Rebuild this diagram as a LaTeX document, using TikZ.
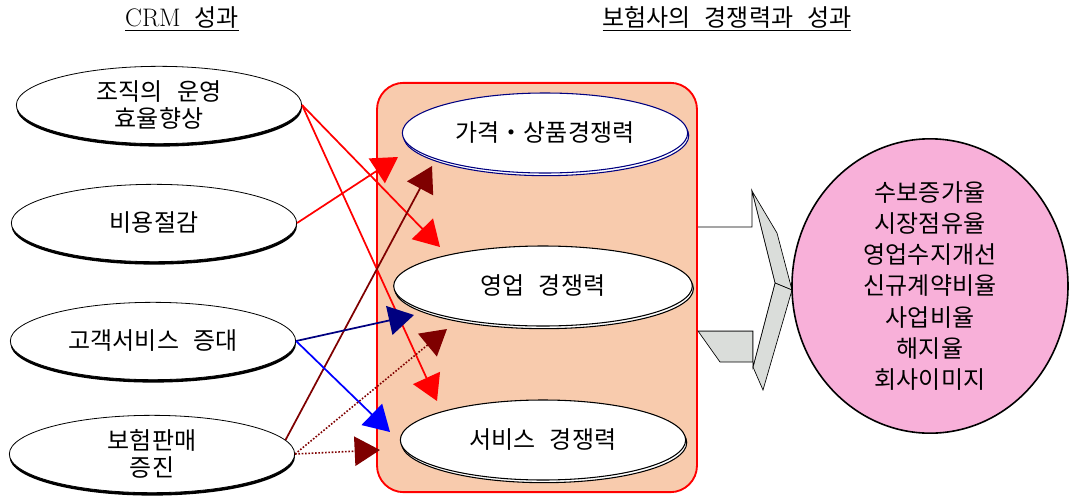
\documentclass[tikz,border=0pt]{standalone}
\usepackage{fontspec}
\newfontfamily\kr[WordSpace=2.6]{Noto Sans CJK KR}
\usetikzlibrary{arrows.meta,shapes.geometric,shadows}
\definecolor{peach}{HTML}{F8CBAD}
\definecolor{rose}{HTML}{F8B0D9}
\definecolor{bevel}{HTML}{DADDDA}
\definecolor{maroon}{HTML}{7F0000}
\definecolor{navy}{HTML}{000080}
\tikzset{
  ttl/.style  ={font=\kr\fontsize{18}{20}\selectfont,inner sep=1pt},
  crm/.style  ={ellipse,draw=black,line width=.6pt,fill=white,align=center,
                font=\kr\fontsize{18}{20.3}\selectfont,inner sep=0pt,
                minimum width=214pt,minimum height=58pt,
                drop shadow={shadow xshift=.2pt,shadow yshift=-2.2pt,fill=black,opacity=1}},
  comp/.style ={ellipse,draw=#1,line width=.8pt,fill=white,align=center,
                font=\kr\fontsize{18}{20}\selectfont,inner sep=0pt,
                minimum width=214pt,minimum height=60pt,
                copy shadow={shadow xshift=.8pt,shadow yshift=-2pt,draw=#1,fill=white}},
  comp/.default=black,
  panel/.style={draw=red,line width=1.4pt,fill=peach,rounded corners=20pt,
                minimum width=240pt,minimum height=307pt},
  res/.style  ={ellipse,draw=black,line width=1.2pt,fill=rose,align=center,
                font=\kr\fontsize{18}{23.3}\selectfont,inner sep=0pt,
                minimum width=207pt,minimum height=186pt},
  blk/.style  ={draw=black,line width=.5pt,line join=miter},
  a/.style    ={-{Triangle[length=19pt,width=22pt]},line width=1.3pt},
  dotarr/.style={a,line width=1.2pt,dash pattern=on 1.2pt off 1.3pt},
}
\begin{document}
\begin{tikzpicture}[x=.75pt,y=-.75pt]
  \useasboundingbox (0,0) rectangle (1072,497);
  \node[ttl] (crmttl) at (182,19) {\underline{{\rmfamily\fontsize{19}{20}\selectfont CRM} 성과}};
  \node[ttl] (insttl) at (727,19) {\underline{보험사의 경쟁력과 성과}};
  \node[crm] (eff)  at (159,105) {조직의 운영\\효율향상};
  \node[crm] (cost) at (154,223) {비용절감};
  \node[crm] (serv) at (153,341) {고객서비스 증대};
  \node[crm] (sale) at (152,454) {보험판매\\증진};
  \node[panel] (panel) at (537,287.5) {};
  \node[comp=navy] (price) at (545,133) {가격・상품경쟁력};
  \node[comp,minimum width=224pt] (biz) at (543,286) {영업 경쟁력};
  \node[comp] (svc) at (543,440) {서비스 경쟁력};
  \draw[blk,fill=bevel] (698,331) -- (720,362) -- (753,362) -- (753,331) -- cycle;
  \draw[blk,fill=bevel] (752,191) -- (777,233) -- (792,290) -- (775,283) -- cycle;
  \draw[blk,fill=bevel] (775,283) -- (792,290) -- (763,390) -- (753,367) -- cycle;
  \draw[blk,fill=white] (698,227) -- (752,227) -- (752,191) -- (775,283)
        -- (753,367) -- (753,331) -- (698,331);
  \node[res] (out) at (930,286) {수보증가율\\시장점유율\\영업수지개선\\신규계약비율\\사업비율\\해지율\\회사이미지};
  \coordinate (t1) at (440,247);
  \coordinate (t2) at (437,401);
  \coordinate (t3) at (398,157);
  \coordinate (t4) at (432,166);
  \coordinate (t5) at (414,315);
  \coordinate (t6) at (390,432);
  \coordinate (t7) at (447,329);
  \coordinate (t8) at (380,450);
  \draw[a,red] (eff.east) -- (t1);
  \draw[a,red] (eff.east) -- (t2);
  \draw[a,red] (cost.east) -- (t3);
  \draw[a,maroon] (sale.6) -- (t4);
  \draw[a,navy] (serv.east) -- (t5);
  \draw[a,blue] (serv.east) -- (t6);
  \draw[dotarr,maroon] (sale.east) -- (t7);
  \draw[dotarr,maroon] (sale.east) -- (t8);
\end{tikzpicture}
\end{document}
